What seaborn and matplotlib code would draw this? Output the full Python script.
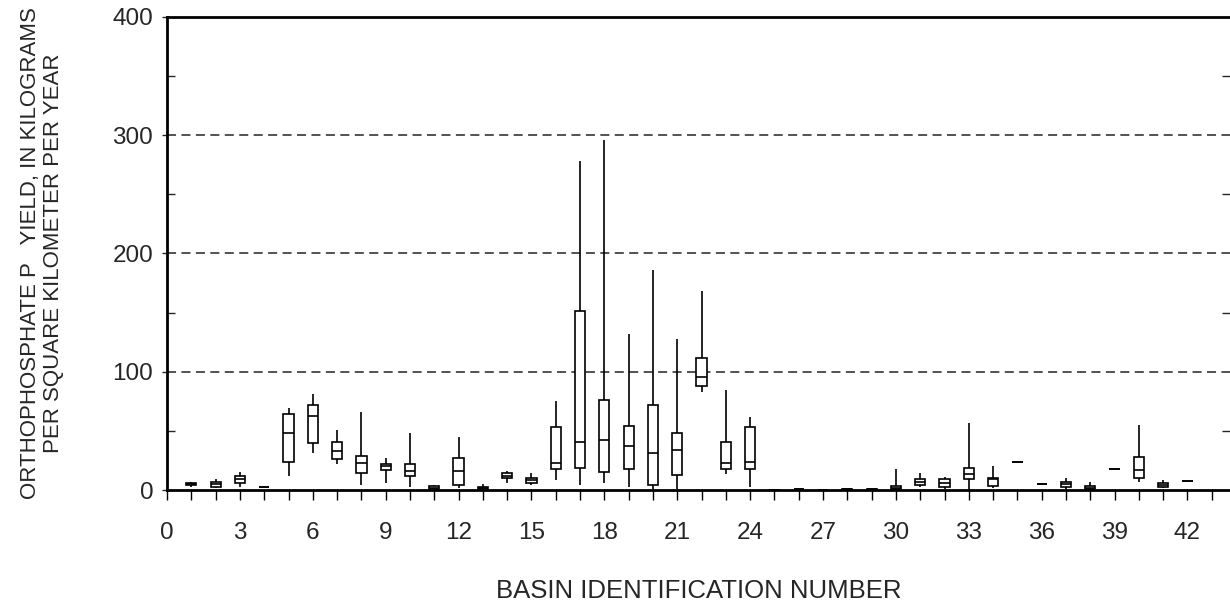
import numpy as np
import pandas as pd
import seaborn as sns
import matplotlib
matplotlib.use("Agg")
from matplotlib import pyplot as plt
from matplotlib.ticker import MultipleLocator

# basin number and the five box values:
# lower whisker, lower quartile, median, upper quartile, upper whisker
basins = list(range(1, 43))
whisker_low = [3, 1.5, 3, 3, 12, 31, 22, 4, 6, 3, 0.5, 2, 0.3, 6, 4,
               8.5, 4, 5.7, 2.5, 0, 1, 83, 13.5, 2.5, 0, 0.4, 0.1, 0.3, 0.3, 0,
               2.3, 1, 0, 1.4, 23.4, 5.1, 0, 0, 17.8, 6.5, 2, 7.9]
quart_low = [4, 2.5, 6, 3, 24, 40, 26, 14, 17, 12, 1, 4, 0.5, 10, 6,
             18, 19, 15, 18, 4.5, 13, 88, 17.5, 17.5, 0.1, 0.5, 0.2, 0.4, 0.4, 0.5,
             4, 2.5, 9, 3.6, 23.4, 5.1, 2.3, 0.8, 17.8, 10, 2.8, 7.9]
median = [5, 5, 9, 3, 48, 63, 33, 23, 20, 16, 2, 16, 1.5, 12, 8.3,
          23, 41, 42, 37, 31.5, 34, 96, 22.6, 24, 0.2, 0.6, 0.3, 0.5, 0.6, 1.5,
          7, 6, 13.5, 9, 23.4, 5.1, 5, 2, 17.8, 17, 4.2, 7.9]
quart_high = [6, 6.5, 11.5, 3, 64, 72, 41, 29, 22, 22, 3.5, 27, 2.5, 14.5, 10.3,
              53, 151, 76, 54, 72, 48, 112, 41, 53, 0.3, 0.8, 0.4, 0.6, 0.8, 3.5,
              9, 9.3, 18.6, 10.4, 23.4, 5.1, 7, 3.4, 17.8, 28, 5.7, 7.9]
whisker_high = [7, 9, 15, 3, 69, 81, 51, 66, 27, 48, 4, 45, 5, 16.5, 14,
                75, 278, 296, 132, 186, 128, 168, 85, 62, 0.4, 1, 0.5, 0.8, 1.2, 18,
                14.6, 11, 57, 20, 23.4, 5.1, 10.4, 6.8, 17.8, 55, 8.2, 7.9]

rows = []
for i, b in enumerate(basins):
    for v in (whisker_low[i], quart_low[i], median[i], quart_high[i], whisker_high[i]):
        rows.append((b, v))
df = pd.DataFrame(rows, columns=["basin", "yield"])

sns.set_style("ticks")
plt.rcParams["font.family"] = ["Liberation Sans", "DejaVu Sans"]

fig = plt.figure(figsize=(12.3, 6.05), dpi=100)
ax = fig.add_axes([0.1358, 0.19, 0.8642, 0.782])

# dashed reference lines
for g in (100, 200, 300):
    ax.axhline(g, color="#444444", lw=1.3, ls=(0, (5, 3)), zorder=0)

sns.boxplot(data=df, x="basin", y="yield", native_scale=True, whis=(0, 100),
            width=0.42, color="white", linecolor="black", linewidth=1.2,
            showcaps=False, showfliers=False, ax=ax)

ax.set_xlim(0, 43.75)
ax.set_ylim(0, 400)
ax.xaxis.set_major_locator(MultipleLocator(3))
ax.xaxis.set_minor_locator(MultipleLocator(1))
ax.yaxis.set_major_locator(MultipleLocator(100))
ax.yaxis.set_minor_locator(MultipleLocator(50))

ax.tick_params(axis="x", which="both", direction="out", length=7, width=1,
               color="black", labelsize=17.5, pad=16)
ax.tick_params(axis="y", which="major", direction="out", length=3.5, width=1,
               labelsize=17.5, pad=6.5, left=True, right=False)
ax.tick_params(axis="y", which="minor", direction="in", length=6, width=1,
               left=True, right=True)

for side in ("left", "bottom", "top"):
    ax.spines[side].set_linewidth(2)
    ax.spines[side].set_color("black")
ax.spines["right"].set_visible(False)

ax.set_xlabel("BASIN IDENTIFICATION NUMBER", fontsize=18.5, labelpad=25)
ax.set_ylabel("ORTHOPHOSPHATE P   YIELD, IN KILOGRAMS\nPER SQUARE KILOMETER PER YEAR",
              fontsize=16, linespacing=1.1, multialignment="center")
ax.yaxis.set_label_coords(-0.097, 0.5)

fig.savefig("out.png", dpi=100)
